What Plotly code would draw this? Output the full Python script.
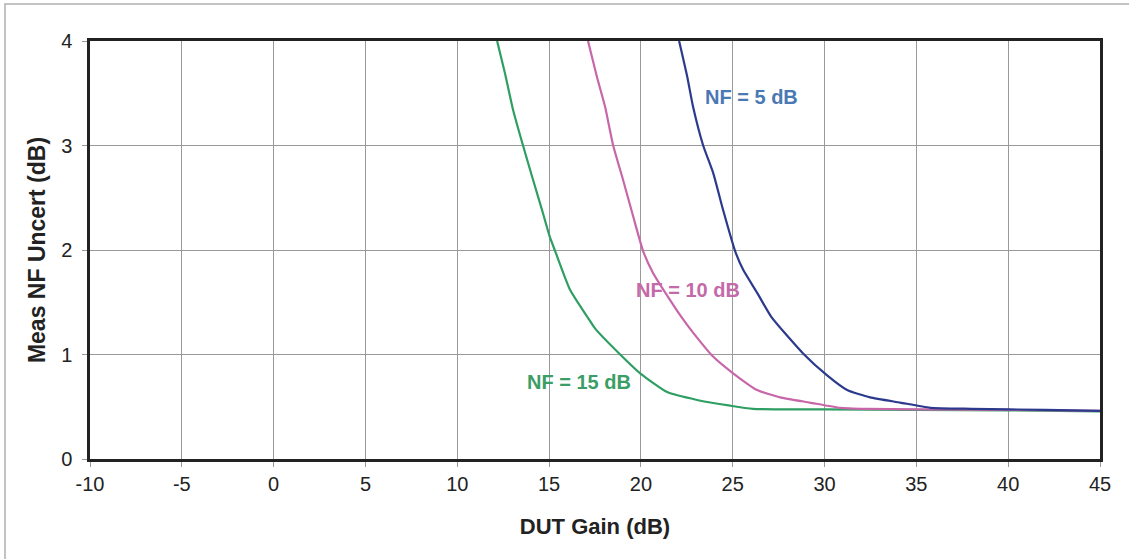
import plotly.graph_objects as go

# Data
nf15_x = [12.17, 12.6, 13.04, 13.58, 14.13, 14.62, 15.05, 15.33, 16.14, 17.12, 17.5, 18.87, 19.96, 21.43, 23.06, 24.86, 26.1, 30.0, 35.0, 40.0, 45.0]
nf15_y = [4.0, 3.69, 3.34, 3.0, 2.67, 2.38, 2.12, 1.99, 1.62, 1.35, 1.25, 1.0, 0.82, 0.64, 0.565, 0.51, 0.48, 0.475, 0.47, 0.465, 0.455]

nf10_x = [17.12, 17.6, 18.05, 18.49, 19.03, 19.58, 20.12, 20.66, 21.59, 22.24, 22.84, 23.93, 25.02, 26.33, 27.58, 29.2, 30.85, 32.3, 35.0, 40.0, 45.0]
nf10_y = [4.0, 3.66, 3.37, 3.0, 2.67, 2.32, 1.99, 1.78, 1.52, 1.35, 1.21, 0.98, 0.82, 0.66, 0.59, 0.54, 0.49, 0.48, 0.475, 0.47, 0.46]

nf5_x = [22.08, 22.52, 22.84, 23.39, 23.93, 24.48, 25.13, 25.57, 26.33, 27.1, 28.83, 30.14, 31.23, 32.48, 34.12, 35.75, 38.0, 42.0, 45.0]
nf5_y = [4.0, 3.66, 3.37, 3.0, 2.74, 2.38, 1.99, 1.81, 1.59, 1.36, 1.01, 0.80, 0.66, 0.59, 0.54, 0.49, 0.48, 0.47, 0.46]

x_ticks = [-10, -5, 0, 5, 10, 15, 20, 25, 30, 35, 40, 45]
x_tick_text = ["-10", "-5", "0", "5", "10", "15", "20", "25", "30", "35", "40", "45"]
y_ticks = [0, 1, 2, 3, 4]
y_tick_text = ["0", "1", "2", "3", "4"]

labels = ["NF = 5 dB", "NF = 10 dB", "NF = 15 dB"]
label_x = [26.0, 22.57, 16.63]
label_y = [3.46, 1.62, 0.74]

line_colors = ["#2b3a8c", "#c866aa", "#2e9e62"]
text_colors = ["#4a78b5", "#c46aa8", "#3a9e66"]

FONT = "Liberation Sans, Arial"

fig = go.Figure()
for xs, ys, c in [(nf15_x, nf15_y, line_colors[2]), (nf10_x, nf10_y, line_colors[1]), (nf5_x, nf5_y, line_colors[0])]:
    fig.add_trace(go.Scatter(x=xs, y=ys, mode="lines", line=dict(color=c, width=2.2, shape="spline", smoothing=0.5),
                             showlegend=False, hoverinfo="skip"))

for t, lx, ly, c in zip(labels, label_x, label_y, text_colors):
    fig.add_annotation(x=lx, y=ly, text="<b>" + t + "</b>", showarrow=False,
                       font=dict(family=FONT, size=20, color=c))

# outer border
fig.add_shape(type="rect", xref="paper", yref="paper",
              x0=(5 - 90) / 1010, x1=1.2, y0=-0.5, y1=1 + (41 - 4) / 418,
              line=dict(color="#b0b0b0", width=1.5), layer="below")

fig.update_layout(
    width=1129, height=559,
    margin=dict(l=90, r=29, t=41, b=100),
    paper_bgcolor="white", plot_bgcolor="white",
    font=dict(family=FONT, size=20, color="#222"),
)
fig.update_xaxes(range=[-10, 45], tickvals=x_ticks, ticktext=x_tick_text, showgrid=True, gridcolor="#9a9a9a", gridwidth=1,
                 showline=True, linecolor="#222", linewidth=2.5, mirror=True,
                 ticks="outside", ticklen=5, tickcolor="#9a9a9a", zeroline=False,
                 tickfont=dict(size=20),
                 title=dict(text="<b>DUT Gain (dB)</b>", font=dict(size=22), standoff=25))
fig.update_yaxes(range=[0, 4], tickvals=y_ticks, ticktext=y_tick_text, showgrid=True, gridcolor="#9a9a9a", gridwidth=1,
                 showline=True, linecolor="#222", linewidth=2.5, mirror=True,
                 ticks="outside", ticklen=5, tickcolor="#9a9a9a", zeroline=False,
                 tickfont=dict(size=20), ticklabelstandoff=6,
                 title=dict(text="<b>Meas NF Uncert (dB)</b>", font=dict(size=23), standoff=10))

fig.write_html("out.html", config={"displayModeBar": False},
               post_script="document.body.style.margin='0';document.body.style.padding='0';")
